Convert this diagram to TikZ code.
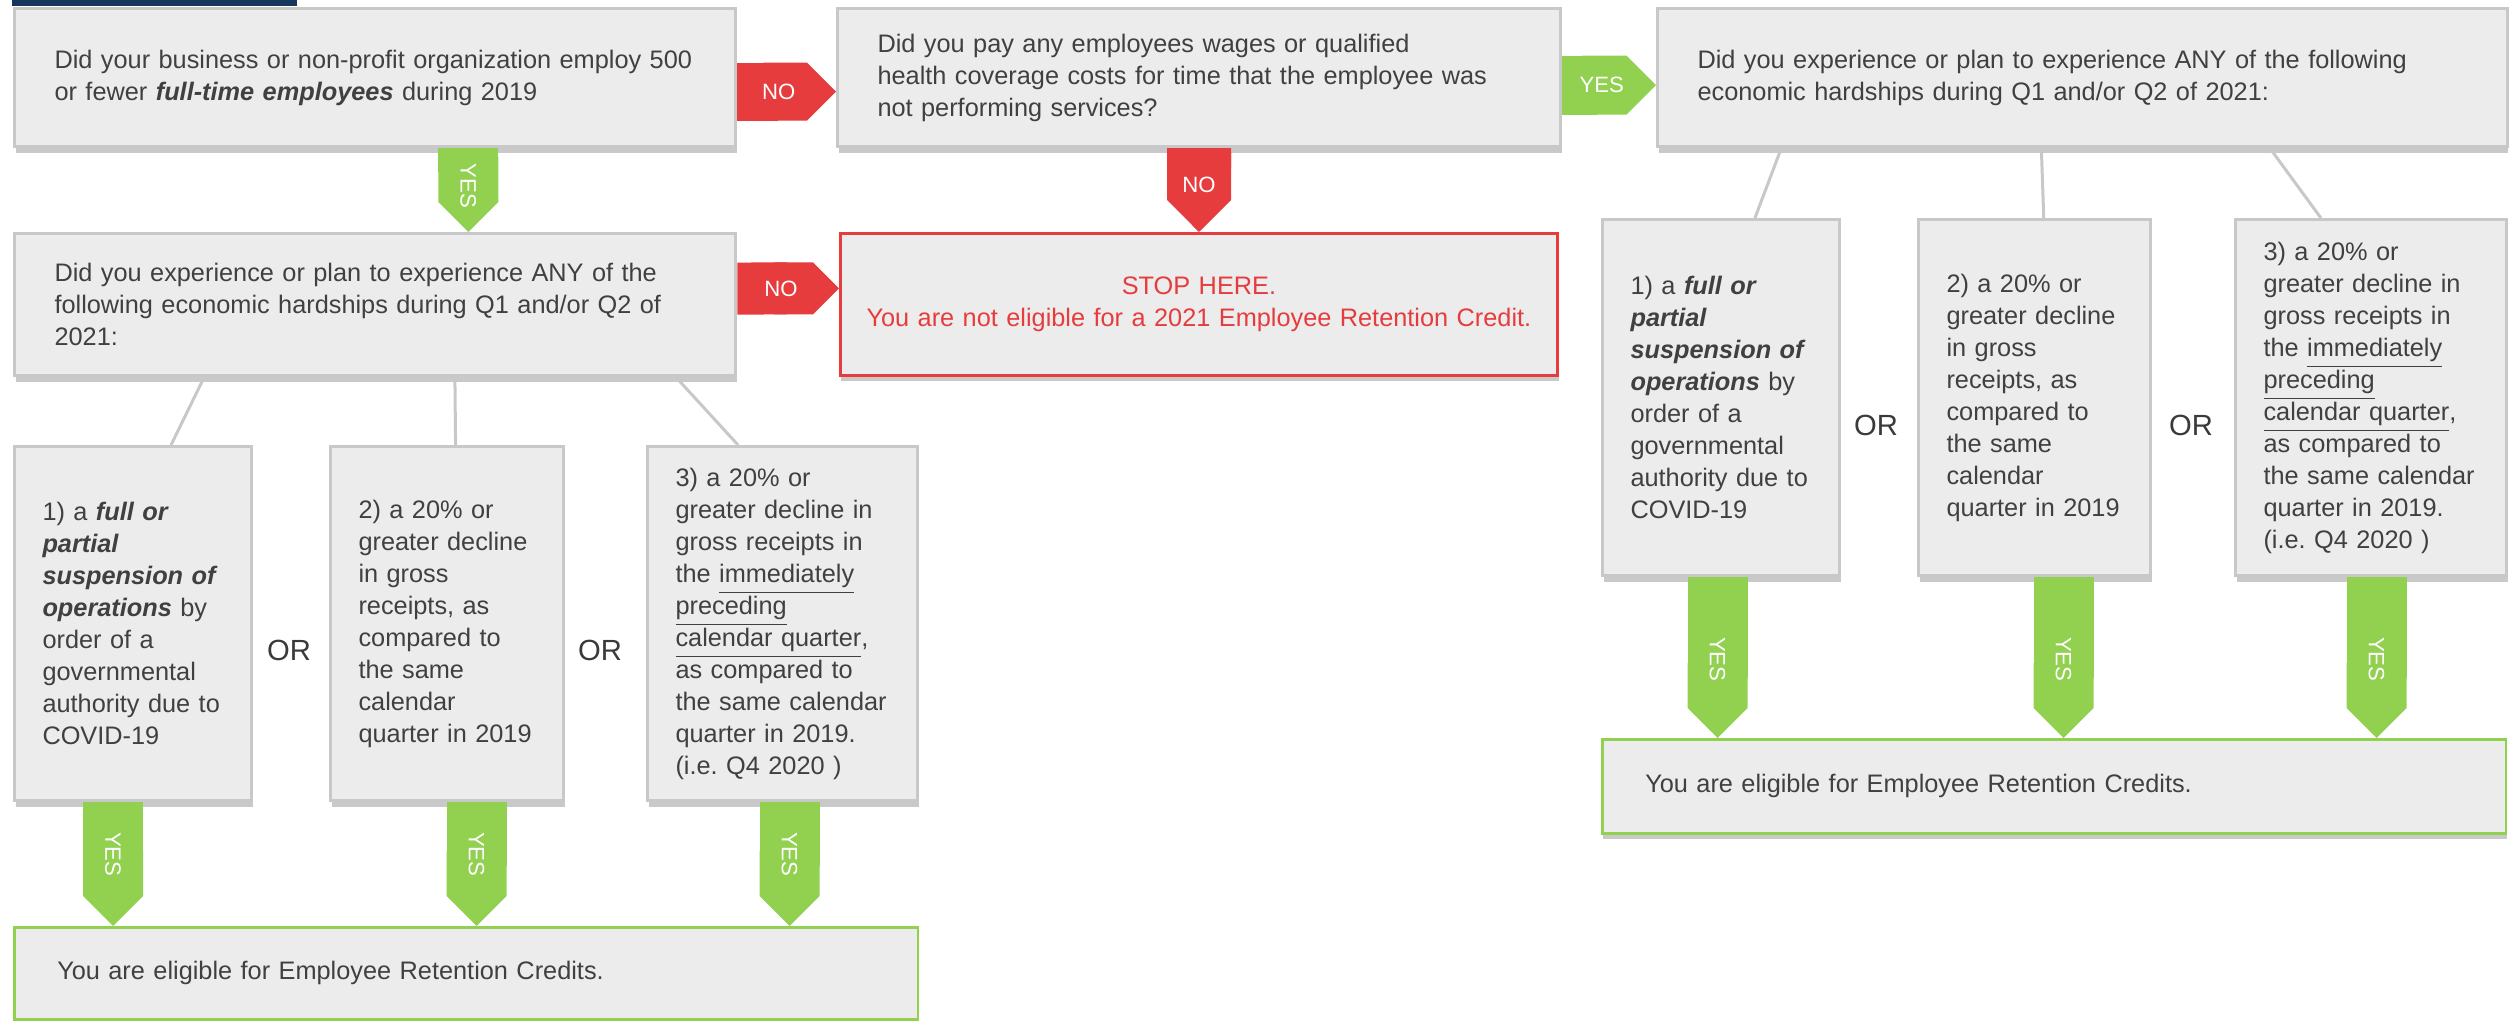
\documentclass[tikz,border=0pt]{standalone}
\usepackage{fontspec}
\setmainfont{Liberation Sans}
\usepackage{tikz}
\usetikzlibrary{arrows.meta,shadows,calc}
\definecolor{boxfill}{HTML}{ECECEC}
\definecolor{boxline}{HTML}{C8C8C8}
\definecolor{textgray}{HTML}{404040}
\definecolor{tagred}{HTML}{E63C3E}
\definecolor{taggreen}{HTML}{92D050}
\definecolor{navybar}{HTML}{17365D}

\begin{document}
\begin{tikzpicture}[x=0.01cm,y=-0.01cm]
	\tikzstyle{qbox} = [rectangle, anchor=north west, draw=boxline, line width=0.03cm, fill=boxfill, text=textgray, align=left, inner xsep=0.4cm, inner ysep=0pt, font=\fontsize{7.2}{9.1}\selectfont, drop shadow={shadow xshift=0.01cm, shadow yshift=-0.06cm, opacity=0.3, fill=black!70}]
	\tikzstyle{hardbox} = [qbox, inner xsep=0.28cm]
	\tikzstyle{stopbox} = [qbox, draw=tagred, line width=0.025cm, text=tagred, align=center, inner xsep=0.1cm]
	\tikzstyle{okbox} = [qbox, draw=taggreen, line width=0.025cm, inner xsep=0.43cm]
	\tikzstyle{ortext} = [text=textgray!90!black, font=\fontsize{8.3}{9}\selectfont]
	\tikzstyle{link} = [draw=boxline, line width=0.03cm]
	\tikzstyle{notag} = [draw=tagred, line width=0.58cm, -{Triangle Cap}]
	\tikzstyle{yestag} = [draw=taggreen, line width=0.6cm, -{Triangle Cap}]
	\tikzstyle{tagtext} = [text=white, inner sep=0pt, font=\fontsize{6.3}{7}\selectfont]
	
	\useasboundingbox (0,0) rectangle (2518,1020);
	\fill[navybar] (12,0) rectangle (297,6);
	
	%questions
	\node[qbox, text width=6.41cm, minimum height=1.38cm] (elig) at (13,7) {Did your business or non-profit organization employ 500\\or fewer \textbf{\textit{full-time employees}} during 2019};
	\node[qbox, text width=6.43cm, minimum height=1.38cm] (wages) at (836,7) {Did you pay any employees wages or qualified\\health coverage costs for time that the employee was\\not performing services?};
	\node[qbox, text width=7.69cm, minimum height=1.38cm] (hardr) at (1656,7) {Did you experience or plan to experience ANY of the following\\economic hardships during Q1 and/or Q2 of 2021:};
	\node[qbox, text width=6.41cm, minimum height=1.42cm] (hardl) at (13,232) {Did you experience or plan to experience ANY of the\\following economic hardships during Q1 and/or Q2 of\\2021:};
	\node[stopbox, text width=6.97cm, minimum height=1.42cm] (stop) at (839,232) {STOP HERE.\\You are not eligible for a 2021 Employee Retention Credit.};
	
	%hardships, left
	\node[hardbox, text width=1.81cm, minimum height=3.54cm] (susl) at (13,445) {1) a \textbf{\textit{full or}}\\\textbf{\textit{partial}}\\\textbf{\textit{suspension of}}\\\textbf{\textit{operations}} by\\order of a\\governmental\\authority due to\\COVID-19};
	\node[hardbox, text width=1.77cm, minimum height=3.54cm] (declinel) at (329,445) {2) a 20\% or\\greater decline\\in gross\\receipts, as\\compared to\\the same\\calendar\\quarter in 2019};
	\node[hardbox, text width=2.14cm, minimum height=3.54cm] (prevl) at (646,445) {3) a 20\% or\\greater decline in\\gross receipts in\\the \underline{immediately}\\\underline{preceding}\\\underline{calendar quarter},\\as compared to\\the same calendar\\quarter in 2019.\\(i.e.\ Q4 2020 )};
	\node[okbox, text width=8.17cm, minimum height=0.92cm] (okl) at (13,926) {You are eligible for Employee Retention Credits.};
	\node[ortext] (or1) at (289,650) {OR};
	\node[ortext] (or2) at (600,650) {OR};
	
	%hardships, right
	\node[hardbox, text width=1.81cm, minimum height=3.56cm] (susr) at (1601,218) {1) a \textbf{\textit{full or}}\\\textbf{\textit{partial}}\\\textbf{\textit{suspension of}}\\\textbf{\textit{operations}} by\\order of a\\governmental\\authority due to\\COVID-19};
	\node[hardbox, text width=1.76cm, minimum height=3.56cm] (decliner) at (1917,218) {2) a 20\% or\\greater decline\\in gross\\receipts, as\\compared to\\the same\\calendar\\quarter in 2019};
	\node[hardbox, text width=2.15cm, minimum height=3.56cm] (prevr) at (2234,218) {3) a 20\% or\\greater decline in\\gross receipts in\\the \underline{immediately}\\\underline{preceding}\\\underline{calendar quarter},\\as compared to\\the same calendar\\quarter in 2019.\\(i.e.\ Q4 2020 )};
	\node[okbox, text width=8.17cm, minimum height=0.94cm] (okr) at (1601,738) {You are eligible for Employee Retention Credits.};
	\node[ortext] (or3) at (1876,425) {OR};
	\node[ortext] (or4) at (2191,425) {OR};
	
	%Links
	\draw[link] ($(hardl.south west)!0.264!(hardl.south east)$) -- ($(susl.north west)!0.658!(susl.north east)$);
	\draw[link] ($(hardl.south west)!0.61!(hardl.south east)$) -- ($(declinel.north west)!0.536!(declinel.north east)$);
	\draw[link] ($(hardl.south west)!0.915!(hardl.south east)$) -- ($(prevl.north west)!0.337!(prevl.north east)$);
	\draw[link] ($(hardr.south west)!0.147!(hardr.south east)$) -- ($(susr.north west)!0.641!(susr.north east)$);
	\draw[link] ($(hardr.south west)!0.452!(hardr.south east)$) -- ($(decliner.north west)!0.539!(decliner.north east)$);
	\draw[link] ($(hardr.south west)!0.72!(hardr.south east)$) -- ($(prevr.north west)!0.317!(prevr.north east)$);
	
	%Tags
	\draw[notag] ([yshift=-0.14cm]elig.east) -- ([yshift=-0.14cm]wages.west) node[tagtext,pos=0.42] {NO};
	\draw[yestag, line width=0.59cm] ([yshift=-0.075cm]wages.east) -- ([yshift=-0.075cm]hardr.west) node[tagtext,pos=0.42] {YES};
	\draw[yestag] ([xshift=0.93cm]elig.south) -- ([xshift=0.93cm]hardl.north) node[tagtext,pos=0.45,rotate=-90] {YES};
	\draw[notag, line width=0.64cm] (wages.south) -- (stop.north) node[tagtext,pos=0.44] {NO};
	\draw[notag, line width=0.52cm] ([yshift=0.16cm]hardl.east) -- ([yshift=0.16cm]stop.west) node[tagtext,pos=0.43] {NO};
	\draw[yestag] ([xshift=-0.2cm]susl.south) -- ([xshift=-0.2cm]susl.south |- okl.north) node[tagtext,pos=0.42,rotate=-90] {YES};
	\draw[yestag] ([xshift=0.295cm]declinel.south) -- ([xshift=0.295cm]declinel.south |- okl.north) node[tagtext,pos=0.42,rotate=-90] {YES};
	\draw[yestag] ([xshift=0.07cm]prevl.south) -- ([xshift=0.07cm]prevl.south |- okl.north) node[tagtext,pos=0.42,rotate=-90] {YES};
	\draw[yestag] ([xshift=-0.035cm]susr.south) -- ([xshift=-0.035cm]susr.south |- okr.north) node[tagtext,pos=0.51,rotate=-90] {YES};
	\draw[yestag] ([xshift=0.29cm]decliner.south) -- ([xshift=0.29cm]decliner.south |- okr.north) node[tagtext,pos=0.51,rotate=-90] {YES};
	\draw[yestag] ([xshift=0.055cm]prevr.south) -- ([xshift=0.055cm]prevr.south |- okr.north) node[tagtext,pos=0.51,rotate=-90] {YES};
	
\end{tikzpicture}
\end{document}
